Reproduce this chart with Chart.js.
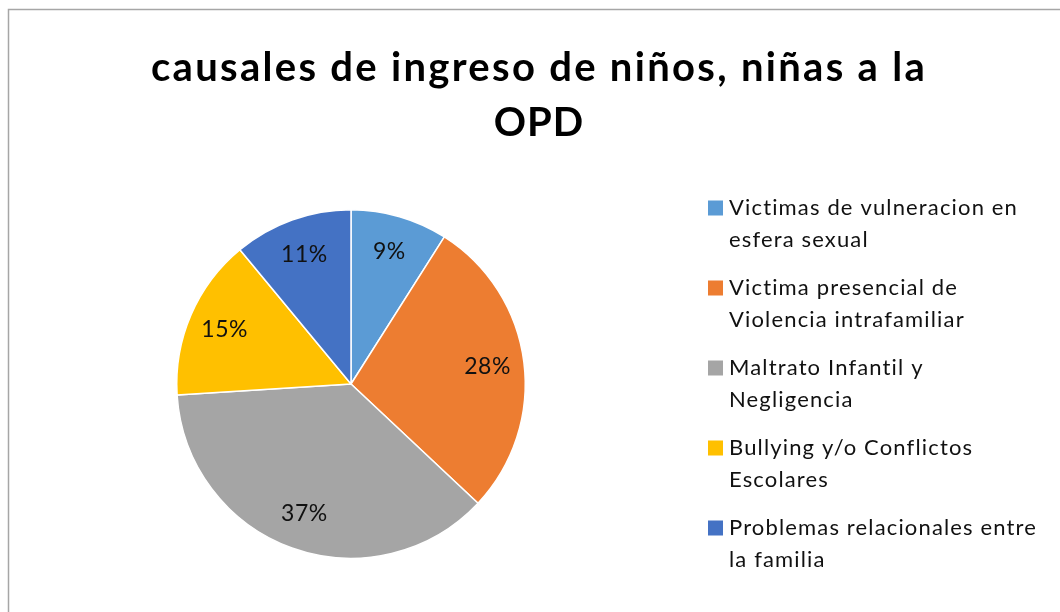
<!DOCTYPE html>
<html lang="es">
<head>
    <meta charset="UTF-8">
    <title>causales de ingreso</title>
    <style>
        body { margin: 0; background: #fff; }
        #wrap { width: 1060px; height: 612px; position: relative; }
    </style>
</head>
<body>
    <div id="wrap"><canvas id="pie"></canvas></div>

    <script src="https://cdn.jsdelivr.net/npm/chart.js"></script>
    <script>
        // datos
        const categorias = [
            'Victimas de vulneracion en esfera sexual',
            'Victima presencial de Violencia intrafamiliar',
            'Maltrato Infantil y Negligencia',
            'Bullying y/o Conflictos Escolares',
            'Problemas relacionales entre la familia'
        ];
        // como aparecen partidas en la leyenda
        const lineasLeyenda = [
            ['Victimas de vulneracion en', 'esfera sexual'],
            ['Victima presencial de', 'Violencia intrafamiliar'],
            ['Maltrato Infantil y', 'Negligencia'],
            ['Bullying y/o Conflictos', 'Escolares'],
            ['Problemas relacionales entre', 'la familia']
        ];
        const porcentajes = [9, 28, 37, 15, 11];
        const colores = ['#5B9BD5', '#ED7D31', '#A5A5A5', '#FFC000', '#4472C4'];
        const titulo = ['causales de ingreso de niños, niñas a la', 'OPD'];

        const FONT = 'Lato, "Open Sans", sans-serif';

        // marco, titulo, etiquetas y leyenda
        const decoracion = {
            id: 'decoracion',
            beforeDraw(chart) {
                const ctx = chart.ctx;
                ctx.save();
                ctx.strokeStyle = '#a6a6a6';
                ctx.lineWidth = 1.5;
                ctx.beginPath();
                ctx.moveTo(8.5, 620);
                ctx.lineTo(8.5, 9.5);
                ctx.lineTo(1070, 9.5);
                ctx.stroke();
                ctx.restore();
            },
            afterDraw(chart) {
                const ctx = chart.ctx;
                ctx.save();
                ctx.fillStyle = '#000';
                ctx.textAlign = 'center';
                ctx.textBaseline = 'middle';
                ctx.font = 'bold 40px ' + FONT;
                ctx.letterSpacing = '2.3px';
                ctx.fillText(titulo[0], 539, 68);
                ctx.letterSpacing = '1px';
                ctx.fillText(titulo[1], 539, 123);

                // porcentajes dentro de cada tajada
                const meta = chart.getDatasetMeta(0);
                ctx.font = '23px ' + FONT;
                ctx.letterSpacing = '0.5px';
                ctx.fillStyle = '#111';
                meta.data.forEach((arc, i) => {
                    const p = arc.getProps(['x', 'y', 'startAngle', 'endAngle', 'outerRadius']);
                    const mid = (p.startAngle + p.endAngle) / 2;
                    const r = p.outerRadius * 0.79;
                    ctx.fillText(porcentajes[i] + '%', p.x + Math.cos(mid) * r, p.y + Math.sin(mid) * r);
                });

                // leyenda
                ctx.textAlign = 'left';
                ctx.font = '22px ' + FONT;
                ctx.letterSpacing = '1.15px';
                lineasLeyenda.forEach((lineas, i) => {
                    const y = 208 + i * 80;
                    ctx.fillStyle = colores[i];
                    ctx.fillRect(708, y - 7.5, 15, 15);
                    ctx.fillStyle = '#111';
                    lineas.forEach((t, j) => ctx.fillText(t, 729, y + j * 32));
                });
                ctx.restore();
            }
        };

        new Chart(document.getElementById('pie'), {
            type: 'pie',
            data: {
                labels: categorias,
                datasets: [{
                    data: porcentajes,
                    backgroundColor: colores,
                    borderColor: '#fff',
                    borderWidth: 1.5
                }]
            },
            options: {
                responsive: true,
                maintainAspectRatio: false,
                animation: false,
                layout: { padding: { left: 176, right: 534, top: 209, bottom: 53 } },
                plugins: {
                    legend: { display: false },
                    title: { display: false },
                    tooltip: { enabled: false }
                }
            },
            plugins: [decoracion]
        });
    </script>
</body>
</html>
